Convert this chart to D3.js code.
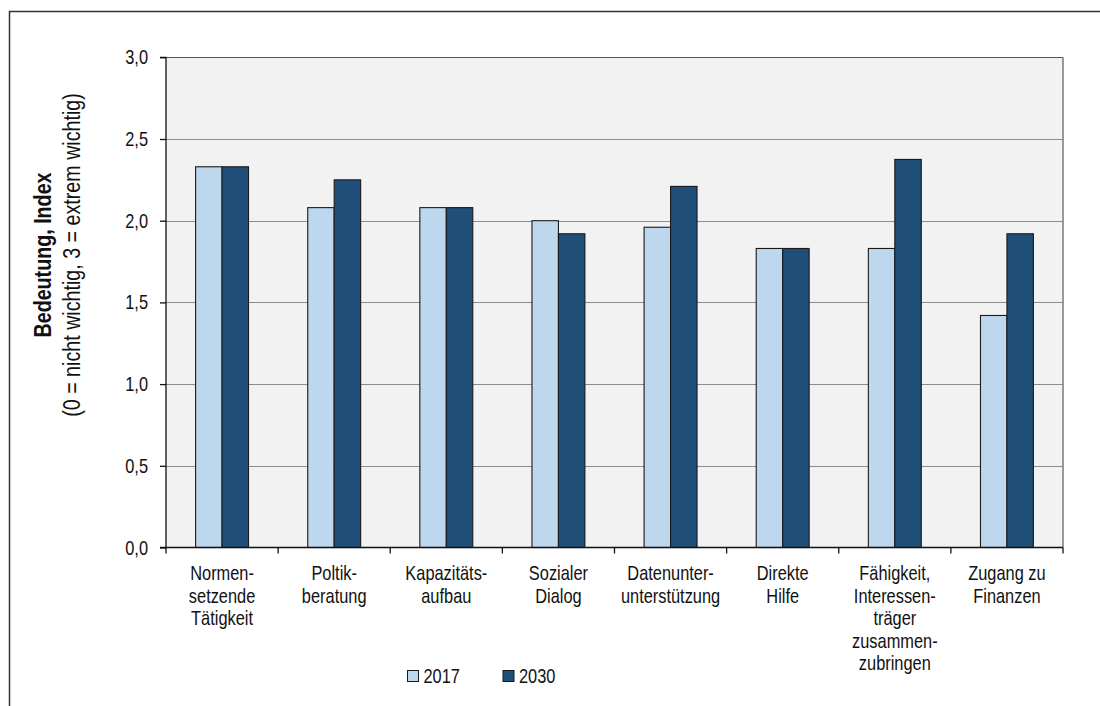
<!DOCTYPE html>
<html><head><meta charset="utf-8">
<script src="https://cdn.jsdelivr.net/npm/d3@7"></script>
<style>html,body{margin:0;padding:0;background:#fff;}svg{display:block;}</style>
</head><body><svg id="c" width="1100" height="706"></svg>
<script>
const categories = [
  ["Normen-","setzende","Tätigkeit"],
  ["Poltik-","beratung"],
  ["Kapazitäts-","aufbau"],
  ["Sozialer","Dialog"],
  ["Datenunter-","unterstützung"],
  ["Direkte","Hilfe"],
  ["Fähigkeit,","Interessen-","träger","zusammen-","zubringen"],
  ["Zugang zu","Finanzen"]
];
const seriesNames = ["2017","2030"];
const values2017 = [2.33, 2.08, 2.08, 2.00, 1.96, 1.83, 1.83, 1.42];
const values2030 = [2.33, 2.25, 2.08, 1.92, 2.21, 1.83, 2.375, 1.92];
const yTicks = [0, 0.5, 1.0, 1.5, 2.0, 2.5, 3.0];
const yTitle1 = "Bedeutung, Index";
const yTitle2 = "(0 = nicht wichtig, 3 = extrem wichtig)";
const colors = ["#bdd7ee", "#1f4e79"];

const FONT = "'Liberation Sans', Arial, sans-serif";
const FS = 20, SX = 0.82;
const svg = d3.select("#c");

// outer frame (top and left edges visible)
svg.append("rect").attr("x",9.5).attr("y",11.5).attr("width",1200).attr("height",800)
  .attr("fill","none").attr("stroke","#333").attr("stroke-width",1.5);

const L = 166, R = 1063, T = 57.3, B = 547.5;
const cats = categories.map((c,i)=>"c"+i);
const x0 = d3.scaleBand().domain(cats).range([L,R]).padding(0);
const bw = x0.bandwidth();
const x1 = d3.scaleBand().domain(seriesNames).range([bw*0.264, bw*0.736]).padding(0);
const y = d3.scaleLinear().domain([0,3]).range([B,T]);

function ntext(parent, x, yy, str, anchor, weight, rot, fs) {
  const g = parent.append("g").attr("transform",
    `translate(${x},${yy})` + (rot ? ` rotate(${rot})` : "") + ` scale(${SX},1)`);
  return g.append("text").attr("x",0).attr("y",0).attr("text-anchor",anchor||"start")
    .attr("font-family",FONT).attr("font-size",fs||FS).attr("font-weight",weight||"normal")
    .attr("fill","#111").text(str);
}

// plot background
svg.append("rect").attr("x",L).attr("y",T).attr("width",R-L).attr("height",B-T).attr("fill","#f2f2f2");

// gridlines
svg.append("g").selectAll("line").data(yTicks.filter(d=>d>0)).join("line")
  .attr("x1",L).attr("x2",R).attr("y1",d=>Math.round(y(d))+0.5).attr("y2",d=>Math.round(y(d))+0.5)
  .attr("stroke",d=>d===3?"#555":"#8c8c8c").attr("stroke-width",1);
// right border
svg.append("line").attr("x1",R).attr("x2",R).attr("y1",T).attr("y2",B).attr("stroke","#7a7a7a").attr("stroke-width",1.5);

// bars
const data = cats.map((c,i)=>({c, vals:[values2017[i], values2030[i]]}));
const gb = svg.append("g").selectAll("g").data(data).join("g")
  .attr("transform",d=>`translate(${x0(d.c)},0)`);
gb.selectAll("rect").data(d=>d.vals.map((v,j)=>({s:seriesNames[j], v, j}))).join("rect")
  .attr("x",d=>x1(d.s)).attr("width",x1.bandwidth())
  .attr("y",d=>y(d.v)).attr("height",d=>B-y(d.v))
  .attr("fill",d=>colors[d.j]).attr("stroke","#1a1a1a").attr("stroke-width",1.1);

// y axis
const yAxis = d3.axisLeft(y).tickValues(yTicks).tickSize(6).tickFormat(()=>"");
const ya = svg.append("g").attr("transform",`translate(${L},0)`).call(yAxis);
ya.selectAll("path,line").attr("stroke","#111").attr("stroke-width",1.3);
ya.select(".domain").attr("d",`M-6,${B}H0V${T}H-6`);
yTicks.forEach(t=>{
  ntext(svg, 148, y(t)+7, d3.format(".1f")(t).replace(".",","), "end");
});

// x axis
const boundaries = cats.map(c=>x0(c)).concat([R]);
svg.append("line").attr("x1",L).attr("x2",R).attr("y1",B).attr("y2",B).attr("stroke","#111").attr("stroke-width",1.3);
svg.append("g").selectAll("line").data(boundaries).join("line")
  .attr("x1",d=>d).attr("x2",d=>d).attr("y1",B).attr("y2",B+6).attr("stroke","#111").attr("stroke-width",1.3);

categories.forEach((lines,i)=>{
  const cx = x0(cats[i]) + bw/2;
  lines.forEach((ln,k)=>{ ntext(svg, cx, 580 + k*22.5, ln, "middle"); });
});

// y title
ntext(svg, 50.5, 255, yTitle1, "middle", "bold", -90, 24);
ntext(svg, 79.5, 255, yTitle2, "middle", "normal", -90, 24);

// legend
const legX = [407.5, 503];
seriesNames.forEach((s,j)=>{
  svg.append("rect").attr("x",legX[j]).attr("y",670.5).attr("width",11).attr("height",11)
    .attr("fill",colors[j]).attr("stroke","#1a1a1a").attr("stroke-width",1);
  ntext(svg, legX[j]+16, 683, s, "start");
});
</script></body></html>
